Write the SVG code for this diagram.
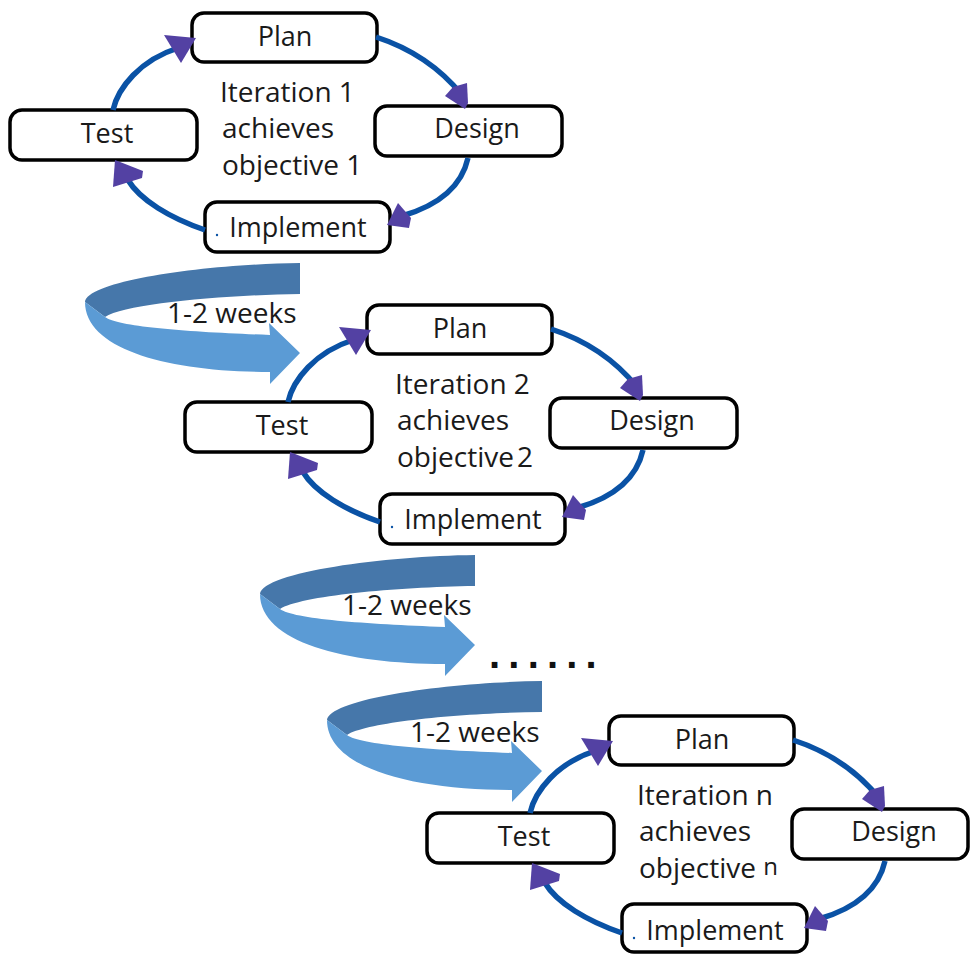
<svg xmlns="http://www.w3.org/2000/svg" width="971" height="955" viewBox="0 0 971 955">
  <defs>
    <style>
      .box { fill: #ffffff; stroke: #000000; stroke-width: 3.5; }
      .lbl { font-family: "Open Sans", "Liberation Sans", sans-serif; font-size: 27px; fill: #1a1a1a; }
      .big { font-size: 28px; }
      .mid { text-anchor: middle; }
      .flow { fill: none; stroke: #0A52A5; stroke-width: 5.5; stroke-linecap: butt; }
      .head { fill: #5341A3; }
      .dark { fill: #4677AA; }
      .light { fill: #5B9BD5; }
      .dot { fill: #0A52A5; }
      .dots { font-family: "Liberation Sans", Arial, sans-serif; font-size: 40px; font-weight: bold; fill: #111111; letter-spacing: 8.2px; }
    </style>
    <g id="cycleLinks">
      <path class="flow" d="M113,110 C118,88 140,60 178,48"/>
      <polygon class="head" points="164,35 196,38 181,63"/>
      <path class="flow" d="M376,37 C410,48 440,68 462,95"/>
      <polygon class="head" points="445,96 453,87 467,83 468,103 465,109"/>
      <path class="flow" d="M468,158 C462,185 440,205 402,216"/>
      <polygon class="head" points="398,203 411,218 409,228 387,225"/>
      <path class="flow" d="M205,230 C170,218 140,200 128,180"/>
      <polygon class="head" points="115,160 143,171 142,178 113,187"/>
    </g>
    <g id="bigArrow">
      <path class="dark" d="M300,263 C210,264 88,280 85,302 L105,317 C125,304 220,295 300,294 Z"/>
      <path class="light" d="M85,302 C85,350 170,372 270,372 L270,384 L300,353 L269,323 L270,335 C190,332 118,327 105,317 Z"/>
    </g>
  </defs>

  <!-- transition arrows -->
  <g id="transition1">
    <use href="#bigArrow"/>
    <text class="lbl big" x="167" y="323">1-2 weeks</text>
  </g>
  <g id="transition2">
    <use href="#bigArrow" transform="translate(175,292)"/>
    <text class="lbl big" x="342" y="615">1-2 weeks</text>
  </g>
  <g id="ellipsis">
    <text class="dots" x="489" y="668">......</text>
  </g>
  <g id="transition3">
    <use href="#bigArrow" transform="translate(242,418)"/>
    <text class="lbl big" x="410" y="742">1-2 weeks</text>
  </g>

  <!-- Iteration 1 -->
  <g id="plan1"><rect class="box" x="192" y="13" width="185" height="49" rx="12"/><text class="lbl mid" x="285" y="46">Plan</text></g>
  <g id="test1"><rect class="box" x="10" y="110" width="187" height="50" rx="12"/><text class="lbl mid" x="107" y="143">Test</text></g>
  <g id="design1"><rect class="box" x="375" y="106" width="187" height="50" rx="12"/><text class="lbl mid" x="477" y="138">Design</text></g>
  <g id="implement1"><rect class="box" x="205" y="202" width="185" height="50" rx="12"/><circle class="dot" cx="217" cy="235" r="1.2"/><text class="lbl mid" x="298" y="237">Implement</text></g>
  <g id="goal1">
    <text class="lbl big" x="220" y="102">Iteration 1</text>
    <text class="lbl big" x="222" y="138">achieves</text>
    <text class="lbl big" x="222" y="175">objective 1</text>
  </g>

  <!-- Iteration 2 -->
  <g id="plan2"><rect class="box" x="367" y="305" width="185" height="49" rx="12"/><text class="lbl mid" x="460" y="338">Plan</text></g>
  <g id="test2"><rect class="box" x="185" y="402" width="187" height="50" rx="12"/><text class="lbl mid" x="282" y="435">Test</text></g>
  <g id="design2"><rect class="box" x="550" y="398" width="187" height="50" rx="12"/><text class="lbl mid" x="652" y="430">Design</text></g>
  <g id="implement2"><rect class="box" x="380" y="494" width="185" height="50" rx="12"/><circle class="dot" cx="392" cy="527" r="1.2"/><text class="lbl mid" x="473" y="529">Implement</text></g>
  <g id="goal2">
    <text class="lbl big" x="395" y="394">Iteration 2</text>
    <text class="lbl big" x="397" y="430">achieves</text>
    <text class="lbl big" x="397" y="467">objective<tspan dx="3">2</tspan></text>
  </g>

  <!-- Iteration n -->
  <g id="planN"><rect class="box" x="609" y="716" width="185" height="49" rx="12"/><text class="lbl mid" x="702" y="749">Plan</text></g>
  <g id="testN"><rect class="box" x="427" y="813" width="187" height="50" rx="12"/><text class="lbl mid" x="524" y="846">Test</text></g>
  <g id="designN"><rect class="box" x="792" y="809" width="176" height="50" rx="12"/><text class="lbl mid" x="894" y="841">Design</text></g>
  <g id="implementN"><rect class="box" x="622" y="904" width="185" height="48" rx="12"/><circle class="dot" cx="634" cy="938" r="1.2"/><text class="lbl mid" x="715" y="940">Implement</text></g>
  <g id="goalN">
    <text class="lbl big" x="637" y="805">Iteration n</text>
    <text class="lbl big" x="639" y="841">achieves</text>
    <text class="lbl big" x="639" y="878">objective <tspan font-size="24" dy="-3">n</tspan></text>
  </g>

  <!-- connectors -->
  <g id="connectors">
    <use href="#cycleLinks"/>
    <use href="#cycleLinks" transform="translate(175,292)"/>
    <use href="#cycleLinks" transform="translate(417,703)"/>
  </g>
</svg>
